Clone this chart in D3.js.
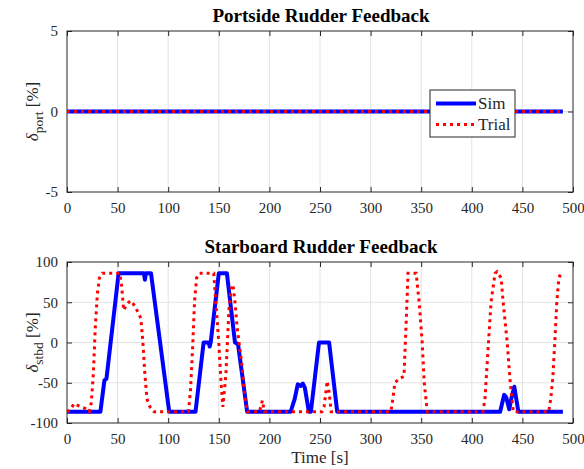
<!DOCTYPE html>
<html>
<head>
<meta charset="utf-8">
<script src="https://cdn.jsdelivr.net/npm/d3@7"></script>
<style>
  body { margin: 0; background: #fff; }
  svg text { font-family: "Liberation Serif", "Times New Roman", "DejaVu Serif", serif; fill: #262626; }
</style>
</head>
<body>
<div id="chart"></div>
<script>
// data
var xTicks = [0, 50, 100, 150, 200, 250, 300, 350, 400, 450, 500];
var portTicks = [-5, 0, 5];
var stbdTicks = [-100, -50, 0, 50, 100];

var portTime = [0, 490];
var portSim = [0, 0];
var portTrial = [0, 0];

var simTime = [0, 33, 37, 39, 51, 76, 77, 78, 83, 101, 127, 135, 140, 141, 142, 150, 158, 166, 169, 178,
  221, 225, 228, 231, 233, 235, 239, 241, 249, 259, 267, 428, 432, 434, 437, 439, 442, 446, 490];
var simStbd = [-86, -86, -47, -45, 86, 86, 78, 86, 86, -86, -86, 0, 0, -5, 0, 86, 86, 0, -2, -86,
  -86, -70, -52, -54, -51, -56, -86, -86, 0, 0, -86, -86, -65, -68, -83, -70, -55, -86, -86];

var trialTime = [0, 3, 7, 12, 18, 22, 24, 26, 28, 30, 32, 35, 52, 54, 56, 58, 61, 63, 66, 70, 73, 75, 77, 79, 82, 86,
  120, 122, 124, 126, 128, 131, 145, 147, 150, 152, 154, 157, 160, 162, 164, 166, 168, 170, 173, 175, 178,
  190, 192, 193, 195, 252, 254, 256, 257, 259, 261,
  320, 322, 324, 328, 333, 335, 337, 345, 348, 351, 353, 356,
  411, 413, 415, 417, 419, 423, 425, 429, 431, 435, 438, 441,
  476, 478, 480, 482, 484, 486, 488, 490];
var trialStbd = [-86, -84, -76, -79, -82, -86, -75, -40, 20, 60, 80, 86, 86, 70, 40, 45, 50, 52, 47, 38, 30, 0, -40, -70, -80, -86,
  -86, -60, -10, 50, 80, 86, 86, 50, 0, -45, -80, -40, 40, 65, 72, 50, 20, 0, -30, -60, -86,
  -86, -78, -72, -86, -86, -80, -60, -48, -62, -86,
  -86, -70, -50, -45, -42, 20, 86, 86, 50, 0, -50, -86,
  -86, -70, -30, 10, 50, 86, 88, 80, 50, 0, -50, -86,
  -86, -70, -45, 0, 50, 80, 86, 85];

var W = 584, H = 469;
var FONT = '"Liberation Serif", "Times New Roman", serif';
var svg = d3.select('#chart').append('svg').attr('width', W).attr('height', H);

var colors = { axis: '#262626', grid: '#e3e3e3', sim: '#0000ff', trial: '#ff0000' };

var x = d3.scaleLinear().domain([0, 500]).range([67, 573]);

function panel(top, bottom, domain, ticks, title, sub, simT, simV, trT, trV) {
  var y = d3.scaleLinear().domain(domain).range([bottom, top]);
  var g = svg.append('g');
  // grid
  g.selectAll('.vg').data(xTicks.slice(1, -1)).enter().append('line')
    .attr('x1', d => x(d)).attr('x2', d => x(d)).attr('y1', top).attr('y2', bottom)
    .attr('stroke', colors.grid).attr('stroke-width', 1);
  g.selectAll('.hg').data(ticks.slice(1, -1)).enter().append('line')
    .attr('x1', 67).attr('x2', 573).attr('y1', d => y(d)).attr('y2', d => y(d))
    .attr('stroke', colors.grid).attr('stroke-width', 1);

  // axes with inward ticks
  var fmt = d => String(d);
  g.append('g').attr('transform', 'translate(0,' + bottom + ')')
    .call(d3.axisBottom(x).tickValues(xTicks).tickSize(-5).tickPadding(10).tickFormat(fmt))
    .call(a => a.select('.domain').remove());
  g.append('g').attr('transform', 'translate(0,' + top + ')')
    .call(d3.axisTop(x).tickValues(xTicks).tickSize(-5).tickFormat(''))
    .call(a => a.select('.domain').remove());
  g.append('g').attr('transform', 'translate(67,0)')
    .call(d3.axisLeft(y).tickValues(ticks).tickSize(-5).tickPadding(9).tickFormat(fmt))
    .call(a => a.select('.domain').remove());
  g.append('g').attr('transform', 'translate(573,0)')
    .call(d3.axisRight(y).tickValues(ticks).tickSize(-5).tickFormat(''))
    .call(a => a.select('.domain').remove());
  g.selectAll('g').attr('font-family', FONT);
  g.selectAll('.tick line').attr('stroke', colors.axis);
  g.selectAll('.tick text').attr('font-size', 15).attr('fill', colors.axis);

  g.append('rect').attr('x', 67).attr('y', top).attr('width', 506).attr('height', bottom - top)
    .attr('fill', 'none').attr('stroke', colors.axis).attr('stroke-width', 1);

  var line = d3.line().x(d => x(d[0])).y(d => y(d[1]));
  var simData = simT.map((t, i) => [t, simV[i]]);
  var trData = trT.map((t, i) => [t, trV[i]]);
  g.append('path').attr('d', line(simData)).attr('fill', 'none')
    .attr('stroke', colors.sim).attr('stroke-width', 4).attr('stroke-linejoin', 'round');
  g.append('path').attr('d', line(trData)).attr('fill', 'none')
    .attr('stroke', colors.trial).attr('stroke-width', 3).attr('stroke-dasharray', '3,4');

  svg.append('text').attr('x', 321).attr('y', top - 9).attr('text-anchor', 'middle')
    .attr('font-family', FONT).attr('font-size', 19).attr('font-weight', 'bold')
    .style('fill', '#000').text(title);

  var yl = svg.append('text').attr('transform', 'translate(38,' + ((top + bottom) / 2) + ') rotate(-90)')
    .attr('text-anchor', 'middle').attr('font-family', FONT).attr('font-size', 17);
  yl.append('tspan').attr('font-style', 'italic').text('δ');
  yl.append('tspan').attr('dy', 5).attr('font-size', 13.5).text(sub);
  yl.append('tspan').attr('dy', -5).text(' [%]');
  return y;
}

panel(31, 192, [-5, 5], portTicks, 'Portside Rudder Feedback', 'port', portTime, portSim, portTime, portTrial);
panel(262, 423, [-100, 100], stbdTicks, 'Starboard Rudder Feedback', 'stbd', simTime, simStbd, trialTime, trialStbd);

svg.append('text').attr('x', 320).attr('y', 463).attr('text-anchor', 'middle')
  .attr('font-family', FONT).attr('font-size', 17).text('Time [s]');

// legend
var leg = svg.append('g').attr('transform', 'translate(430,90)');
leg.append('rect').attr('width', 85).attr('height', 47).attr('fill', '#fff')
  .attr('stroke', colors.axis).attr('stroke-width', 1);
var legItems = [{ name: 'Sim', c: colors.sim, w: 4, dash: null }, { name: 'Trial', c: colors.trial, w: 3, dash: '3,4' }];
legItems.forEach(function (d, i) {
  var yy = 13.5 + i * 21;
  leg.append('line').attr('x1', 6).attr('x2', 46).attr('y1', yy).attr('y2', yy)
    .attr('stroke', d.c).attr('stroke-width', d.w).attr('stroke-dasharray', d.dash);
  leg.append('text').attr('x', 48).attr('y', yy + 5.5).attr('font-family', FONT)
    .attr('font-size', 17).text(d.name);
});
</script>
</body>
</html>
